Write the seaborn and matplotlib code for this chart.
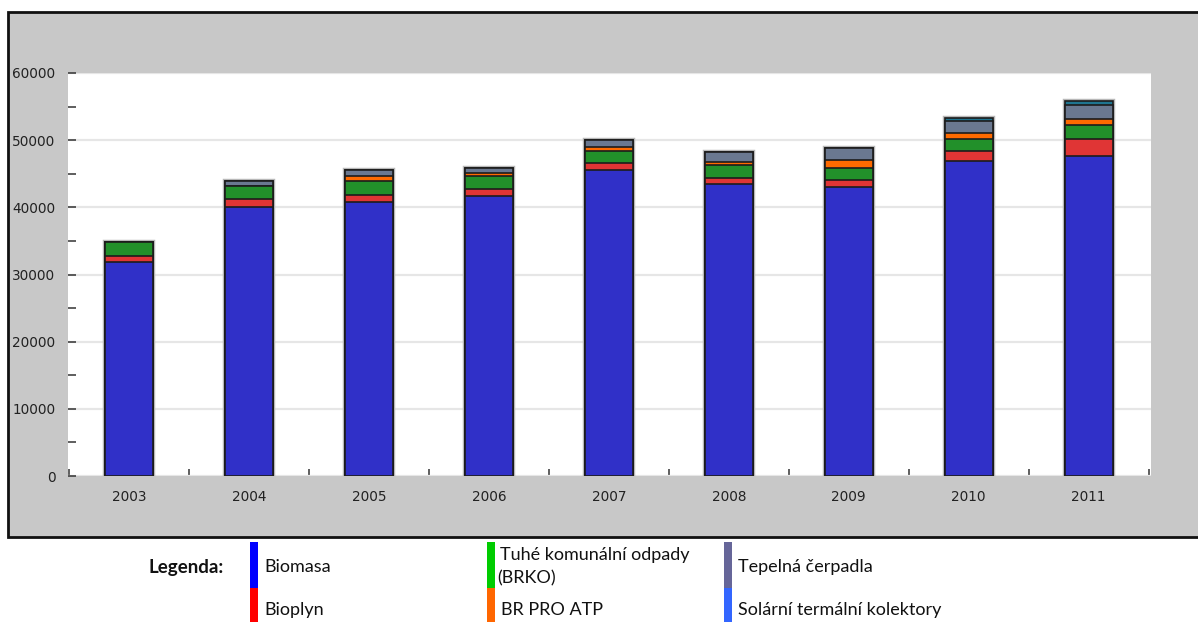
import matplotlib
matplotlib.use("Agg")
import matplotlib.pyplot as plt
from matplotlib.patches import Rectangle
import seaborn as sns
import numpy as np

# Heat production from renewable sources by year (stacked, per source)
years = ["2003", "2004", "2005", "2006", "2007", "2008", "2009", "2010", "2011"]
biomasa = [31900, 40100, 40800, 41700, 45500, 43500, 43000, 46900, 47700]
bioplyn = [900, 1100, 1000, 1000, 1100, 900, 1100, 1500, 2500]
brko = [2000, 2000, 2100, 1900, 1800, 1900, 1800, 1700, 2000]
br_pro_atp = [0, 0, 800, 500, 600, 500, 1100, 1000, 900]
tepelna_cerpadla = [0, 700, 800, 750, 1000, 1400, 1800, 1800, 2200]
solarni_kolektory = [0, 0, 0, 0, 0, 0, 0, 400, 500]

series = [biomasa, bioplyn, brko, br_pro_atp, tepelna_cerpadla, solarni_kolektory]
bar_colors = ["#3030c8", "#e03535", "#22902a", "#ff6a00", "#6a7890", "#1f7590"]

legend_rows = [
    ("Biomasa", "#0000ff"),
    ("Bioplyn", "#ff0000"),
    ("Tuhé komunální odpady\n(BRKO)", "#00cc00"),
    ("BR PRO ATP", "#ff6600"),
    ("Tepelná čerpadla", "#666699"),
    ("Solární termální kolektory", "#3366ff"),
]

plt.rcParams["font.family"] = ["DejaVu Sans"]

W, H = 1198, 622
fig = plt.figure(figsize=(W / 100, H / 100), dpi=100)
fig.patch.set_facecolor("white")


def fx(px):
    return px / W


def fy(py):
    return 1 - py / H


# grey chart panel with dark frame
panel = Rectangle((fx(8), fy(537)), fx(1260 - 8), (537 - 12) / H,
                  transform=fig.transFigure, facecolor="#c8c8c8",
                  edgecolor="#111111", linewidth=2, zorder=-10)
fig.patches.append(panel)

ax = fig.add_axes([fx(68), fy(476), (1151 - 68) / W, (476 - 73) / H])
ax.set_zorder(1)
ax.set_facecolor("white")

cum = np.cumsum(np.array(series, dtype=float), axis=0)
total = cum[-1]

# soft halo around each bar
sns.barplot(x=years, y=total, color="#b8b8b8", saturation=1, width=0.4,
            edgecolor="#b8b8b8", linewidth=3.2, errorbar=None, ax=ax)

# stacked layers: draw cumulative heights from the top layer down
for k in range(len(series) - 1, -1, -1):
    sns.barplot(x=years, y=cum[k], color=bar_colors[k], saturation=1,
                width=0.4, edgecolor="#1c1c1c", linewidth=1.2,
                errorbar=None, ax=ax)

ax.set_xlim(-0.51, 8.52)
ax.set_ylim(0, 60000)
ax.set_xlabel("")
ax.set_ylabel("")

ax.set_yticks(np.arange(0, 60001, 10000))
ax.set_yticklabels([str(v) for v in range(0, 60001, 10000)])
ax.set_yticks(np.arange(5000, 60000, 10000), minor=True)
ax.set_xticks(np.arange(len(years)))
ax.set_xticklabels(years)
ax.set_xticks(np.arange(-0.5, len(years), 1.0), minor=True)

ax.tick_params(axis="y", which="both", direction="in", length=6, width=1.1,
               color="#333333", labelsize=9.8, labelcolor="#222222", pad=9)
ax.tick_params(axis="x", which="major", length=0, labelsize=9.8,
               labelcolor="#222222", pad=10)
ax.tick_params(axis="x", which="minor", direction="in", length=5, width=1.1,
               color="#333333")

ax.yaxis.grid(True, which="major", color="#e6e6e6", linewidth=1.6)
ax.set_axisbelow(True)
for s in ax.spines.values():
    s.set_visible(False)

# legend block under the panel
font = ["Lato", "DejaVu Sans"]
fig.text(fx(148), fy(567), "Legenda:", fontsize=13.5, fontweight="bold",
         family=font, va="center", ha="left", color="#111111")

col_x = [250, 487, 724]
for i, (label, color) in enumerate(legend_rows):
    col = i // 2
    row = i % 2
    x0 = col_x[col]
    y_top, y_bot = (542, 588) if row == 0 else (588, 622)
    fig.patches.append(Rectangle((fx(x0), fy(y_bot)), fx(8), (y_bot - y_top) / H,
                                 transform=fig.transFigure, facecolor=color,
                                 edgecolor="none", zorder=1))
    ty = 567 if row == 0 else 610
    if "\n" in label:
        first, second = label.split("\n")
        fig.text(fx(x0 + 13), fy(555), first, fontsize=13, family=font,
                 va="center", ha="left", color="#111111")
        fig.text(fx(x0 + 10), fy(578), second, fontsize=13, family=font,
                 va="center", ha="left", color="#111111")
    else:
        fig.text(fx(x0 + 14), fy(ty), label, fontsize=13, family=font,
                 va="center", ha="left", color="#111111")

fig.savefig("out.png", dpi=100)
